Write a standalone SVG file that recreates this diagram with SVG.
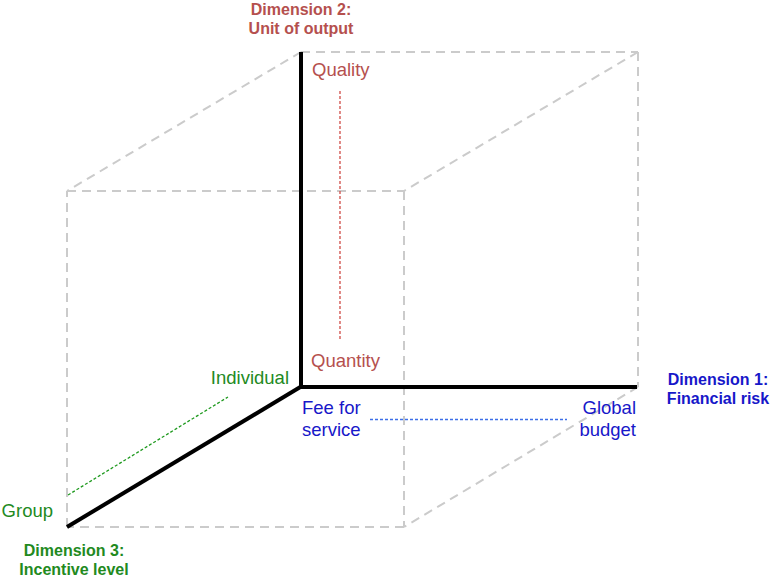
<svg xmlns="http://www.w3.org/2000/svg" width="780" height="580" viewBox="0 0 780 580">
<style>
.cube{stroke:#cbcbcb;stroke-width:2;stroke-dasharray:9 6;fill:none}
.axis{stroke:#000;stroke-width:4;fill:none;stroke-linecap:butt}
.t{font-family:"Liberation Sans",Arial,sans-serif;font-size:18.5px}
.h{font-family:"Liberation Sans",Arial,sans-serif;font-size:16px;font-weight:bold;text-anchor:middle}
.red{fill:#b5504e}
.blue{fill:#1717c9}
.green{fill:#228a1e}
</style>
<rect width="780" height="580" fill="#fff"/>
<g id="cube">
<line class="cube" x1="301" y1="52" x2="638" y2="52"/>
<line class="cube" x1="638" y1="52" x2="638" y2="387"/>
<line class="cube" x1="301" y1="52" x2="67" y2="191"/>
<line class="cube" x1="638" y1="52" x2="404" y2="191"/>
<line class="cube" x1="638" y1="387" x2="404" y2="527"/>
<line class="cube" x1="67" y1="191" x2="404" y2="191"/>
<line class="cube" x1="404" y1="191" x2="404" y2="527"/>
<line class="cube" x1="404" y1="527" x2="67" y2="527"/>
<line class="cube" x1="67" y1="527" x2="67" y2="191"/>
</g>
<g id="connectors">
<line class="axis" x1="301" y1="52" x2="301" y2="389"/>
<line class="axis" x1="299" y1="387" x2="637" y2="387"/>
<line class="axis" x1="302" y1="386" x2="67" y2="527"/>
<line x1="340" y1="91" x2="340" y2="341" stroke="#d04a45" stroke-width="1.3" stroke-dasharray="3 2"/>
<line x1="370" y1="419.5" x2="567" y2="419.5" stroke="#3d6fe8" stroke-width="1.3" stroke-dasharray="3 2"/>
<line x1="68" y1="495" x2="228" y2="397" stroke="#1f9a1f" stroke-width="1.3" stroke-dasharray="3 2"/>
</g>
<g id="dim2">
<text class="h red" x="301" y="15">Dimension 2:</text>
<text class="h red" x="301" y="34">Unit of output</text>
</g>
<g id="quality"><text class="t red" x="312" y="76">Quality</text></g>
<g id="quantity"><text class="t red" x="311" y="367">Quantity</text></g>
<g id="dim1">
<text class="h blue" x="718" y="385">Dimension 1:</text>
<text class="h blue" x="718" y="404">Financial risk</text>
</g>
<g id="fee"><text class="t blue" x="302" y="414">Fee for</text><text class="t blue" x="302" y="436">service</text></g>
<g id="global"><text class="t blue" x="636" y="414" text-anchor="end">Global</text><text class="t blue" x="636" y="436" text-anchor="end">budget</text></g>
<g id="individual"><text class="t green" x="289" y="384" text-anchor="end">Individual</text></g>
<g id="group"><text class="t green" x="53" y="517" text-anchor="end">Group</text></g>
<g id="dim3">
<text class="h green" x="74" y="556">Dimension 3:</text>
<text class="h green" x="74" y="575">Incentive level</text>
</g>
</svg>
